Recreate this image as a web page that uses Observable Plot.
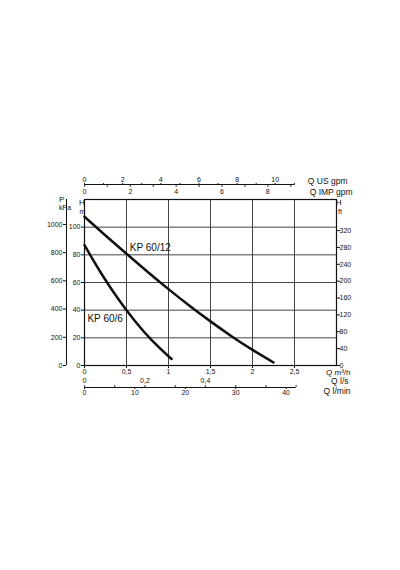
<!DOCTYPE html>
<html><head><meta charset="utf-8">
<script src="https://cdn.jsdelivr.net/npm/d3@7"></script>
<script src="https://cdn.jsdelivr.net/npm/@observablehq/plot@0.6"></script>
<style>body{margin:0;background:#fff;} svg text{-webkit-font-smoothing:antialiased;}</style>
</head><body><div id="chart"></div>
<script>
// Pump curves: flow Q (m³/h) vs head H (m)
const qKP12 = [0, 0.25, 0.5, 0.75, 1.0, 1.25, 1.5, 1.75, 2.0, 2.25];
const hKP12 = [107.5, 94, 80.8, 67.8, 55.2, 43.2, 31.9, 21.2, 11.3, 2.2];
const qKP6 = [0, 0.2, 0.4, 0.6, 0.8, 1.0, 1.036];
const hKP6 = [87, 66.5, 48.3, 32.2, 18.4, 6.7, 4.9];

const curveNames = ["KP 60/12", "KP 60/6"];
const labelQ = [0.54, 0.035];
const labelH = [85, 34];

// Axis ticks
const qTicks = [0, 0.5, 1, 1.5, 2, 2.5];
const hTicks = [0, 20, 40, 60, 80, 100];
const kPaTicks = [0, 200, 400, 600, 800, 1000];
const ftTicks = [0, 40, 80, 120, 160, 200, 240, 280, 320];
const usGpmTicks = [0, 1, 2, 3, 4, 5, 6, 7, 8, 9, 10, 11];
const impGpmTicks = [0, 1, 2, 3, 4, 5, 6, 7, 8, 9];
const impGpmLabels = [0, 2, 4, 6, 8];
const lsTicks = [0, 0.1, 0.2, 0.3, 0.4, 0.5, 0.6, 0.7];
const lsLabels = [0, 0.2, 0.4];
const lminTicks = [0, 10, 20, 30, 40];

// unit conversions
const M3H_PER_USGPM = 0.2271, M3H_PER_IMPGPM = 0.2728, M3H_PER_LS = 3.6, M3H_PER_LMIN = 0.06;
const KPA_PER_M = 9.81, FT_PER_M = 3.281;
const yMax = 120, xMax = 3;

const kp12 = qKP12.map((q, i) => ({q, h: hKP12[i]}));
const kp6 = qKP6.map((q, i) => ({q, h: hKP6[i]}));
const labels = curveNames.map((name, i) => ({name, q: labelQ[i], h: labelH[i]}));
const comma = d => String(d).replace(".", ",");

const ink = "#111";
const fs = 7;
const fl = 8.5;

const chart = Plot.plot({
  width: 400, height: 570,
  marginTop: 199, marginBottom: 205, marginLeft: 84, marginRight: 64,
  x: {domain: [0, xMax]},
  y: {domain: [0, yMax]},
  style: {fontFamily: "'Liberation Sans', Arial, sans-serif", color: ink, background: "#fff"},
  marks: [
    // grid
    Plot.ruleX(qTicks.slice(1), {stroke: "#444", strokeWidth: 1}),
    Plot.ruleY(hTicks.slice(1), {stroke: "#444", strokeWidth: 1}),
    Plot.frame({stroke: ink, strokeWidth: 1.2}),

    // curves
    Plot.line(kp12, {x: "q", y: "h", curve: "natural", stroke: ink, strokeWidth: 2.5}),
    Plot.line(kp6, {x: "q", y: "h", curve: "natural", stroke: ink, strokeWidth: 2.5}),
    Plot.text(labels, {x: "q", y: "h", text: "name", textAnchor: "start", fontSize: 10, fill: ink}),

    // left H (m)
    Plot.axisY(hTicks, {anchor: "left", tickSize: 3, tickPadding: 1, fontSize: fs, label: null}),
    // P (kPa)
    Plot.ruleX([0], {dx: -18, stroke: ink, strokeWidth: 1}),
    Plot.axisY(kPaTicks.map(v => v / KPA_PER_M), {anchor: "left", dx: -18, tickSize: 3, tickPadding: 1,
      tickFormat: d => String(Math.round(d * KPA_PER_M)), fontSize: fs, label: null}),
    // right H (ft)
    Plot.axisY(ftTicks.map(v => v / FT_PER_M), {anchor: "right", tickSize: 3, tickPadding: 0,
      tickFormat: d => String(Math.round(d * FT_PER_M)), fontSize: fs, label: null}),

    // bottom Q m³/h
    Plot.axisX(qTicks, {anchor: "bottom", tickSize: 3, tickPadding: 1, tickFormat: comma, fontSize: fs, label: null}),
    Plot.text(["Q m³/h"], {frameAnchor: "bottom-right", dx: 14, dy: 9.5, textAnchor: "end", fontSize: 8, fill: ink}),

    // bottom secondary: l/s above, l/min below
    Plot.ruleY([0], {x1: 0, x2: d3.max(lsTicks) * M3H_PER_LS, dy: 22, stroke: ink, strokeWidth: 1}),
    Plot.dot(lsTicks, {x: d => d * M3H_PER_LS, frameAnchor: "bottom", dy: 20.5, r: 0.8, fill: ink, stroke: null}),
    Plot.text(lsLabels, {x: d => d * M3H_PER_LS, frameAnchor: "bottom", dy: 17.3, text: comma, fontSize: fs, fill: ink}),
    Plot.axisX(lminTicks.map(v => v * M3H_PER_LMIN), {anchor: "bottom", dy: 22, tickSize: 2, tickPadding: 1,
      tickFormat: d => String(Math.round(d / M3H_PER_LMIN)), fontSize: fs, label: null}),
    Plot.text(["Q l/s"], {frameAnchor: "bottom-right", dx: 12, dy: 18.5, textAnchor: "end", fontSize: fl, fill: ink}),
    Plot.text(["Q l/min"], {frameAnchor: "bottom-right", dx: 14, dy: 28.5, textAnchor: "end", fontSize: fl, fill: ink}),

    // top secondary: US gpm above, IMP gpm below
    Plot.ruleY([yMax], {x1: 0, x2: d3.max(usGpmTicks) * M3H_PER_USGPM, dy: -15, stroke: ink, strokeWidth: 1}),
    Plot.axisX(usGpmTicks.map(v => v * M3H_PER_USGPM), {anchor: "top", dy: -15, tickSize: 2, tickPadding: 1,
      tickFormat: d => { const n = Math.round(d / M3H_PER_USGPM); return n % 2 === 0 ? String(n) : ""; }, fontSize: fs, label: null}),
    Plot.dot(impGpmTicks, {x: d => d * M3H_PER_IMPGPM, frameAnchor: "top", dy: -13.5, r: 0.8, fill: ink, stroke: null}),
    Plot.text(impGpmLabels, {x: d => d * M3H_PER_IMPGPM, frameAnchor: "top", dy: -10.3, text: d => String(d), fontSize: fs, fill: ink}),
    Plot.text(["Q US gpm"], {frameAnchor: "top-right", dx: 11, dy: -21.5, textAnchor: "end", fontSize: fl, fill: ink}),
    Plot.text(["Q IMP gpm"], {frameAnchor: "top-right", dx: 16, dy: -10.3, textAnchor: "end", fontSize: fl, fill: ink}),

    // unit captions
    Plot.text(["P"], {frameAnchor: "top-left", dx: -25.4, dy: -3, fontSize: 8, fill: ink}),
    Plot.text(["kPa"], {frameAnchor: "top-left", dx: -25.4, dy: 5.5, fontSize: 7, fill: ink}),
    Plot.text(["H"], {frameAnchor: "top-left", dx: -5.5, dy: 0, fontSize: 8, fill: ink}),
    Plot.text(["m"], {frameAnchor: "top-left", dx: -5, dy: 9.5, fontSize: 7, fill: ink}),
    Plot.text(["H"], {frameAnchor: "top-right", dx: 5, dy: 0, fontSize: 8, fill: ink}),
    Plot.text(["ft"], {frameAnchor: "top-right", dx: 5.5, dy: 9.5, fontSize: 7, fill: ink})
  ]
});
document.getElementById("chart").append(chart);
</script>
</body></html>
